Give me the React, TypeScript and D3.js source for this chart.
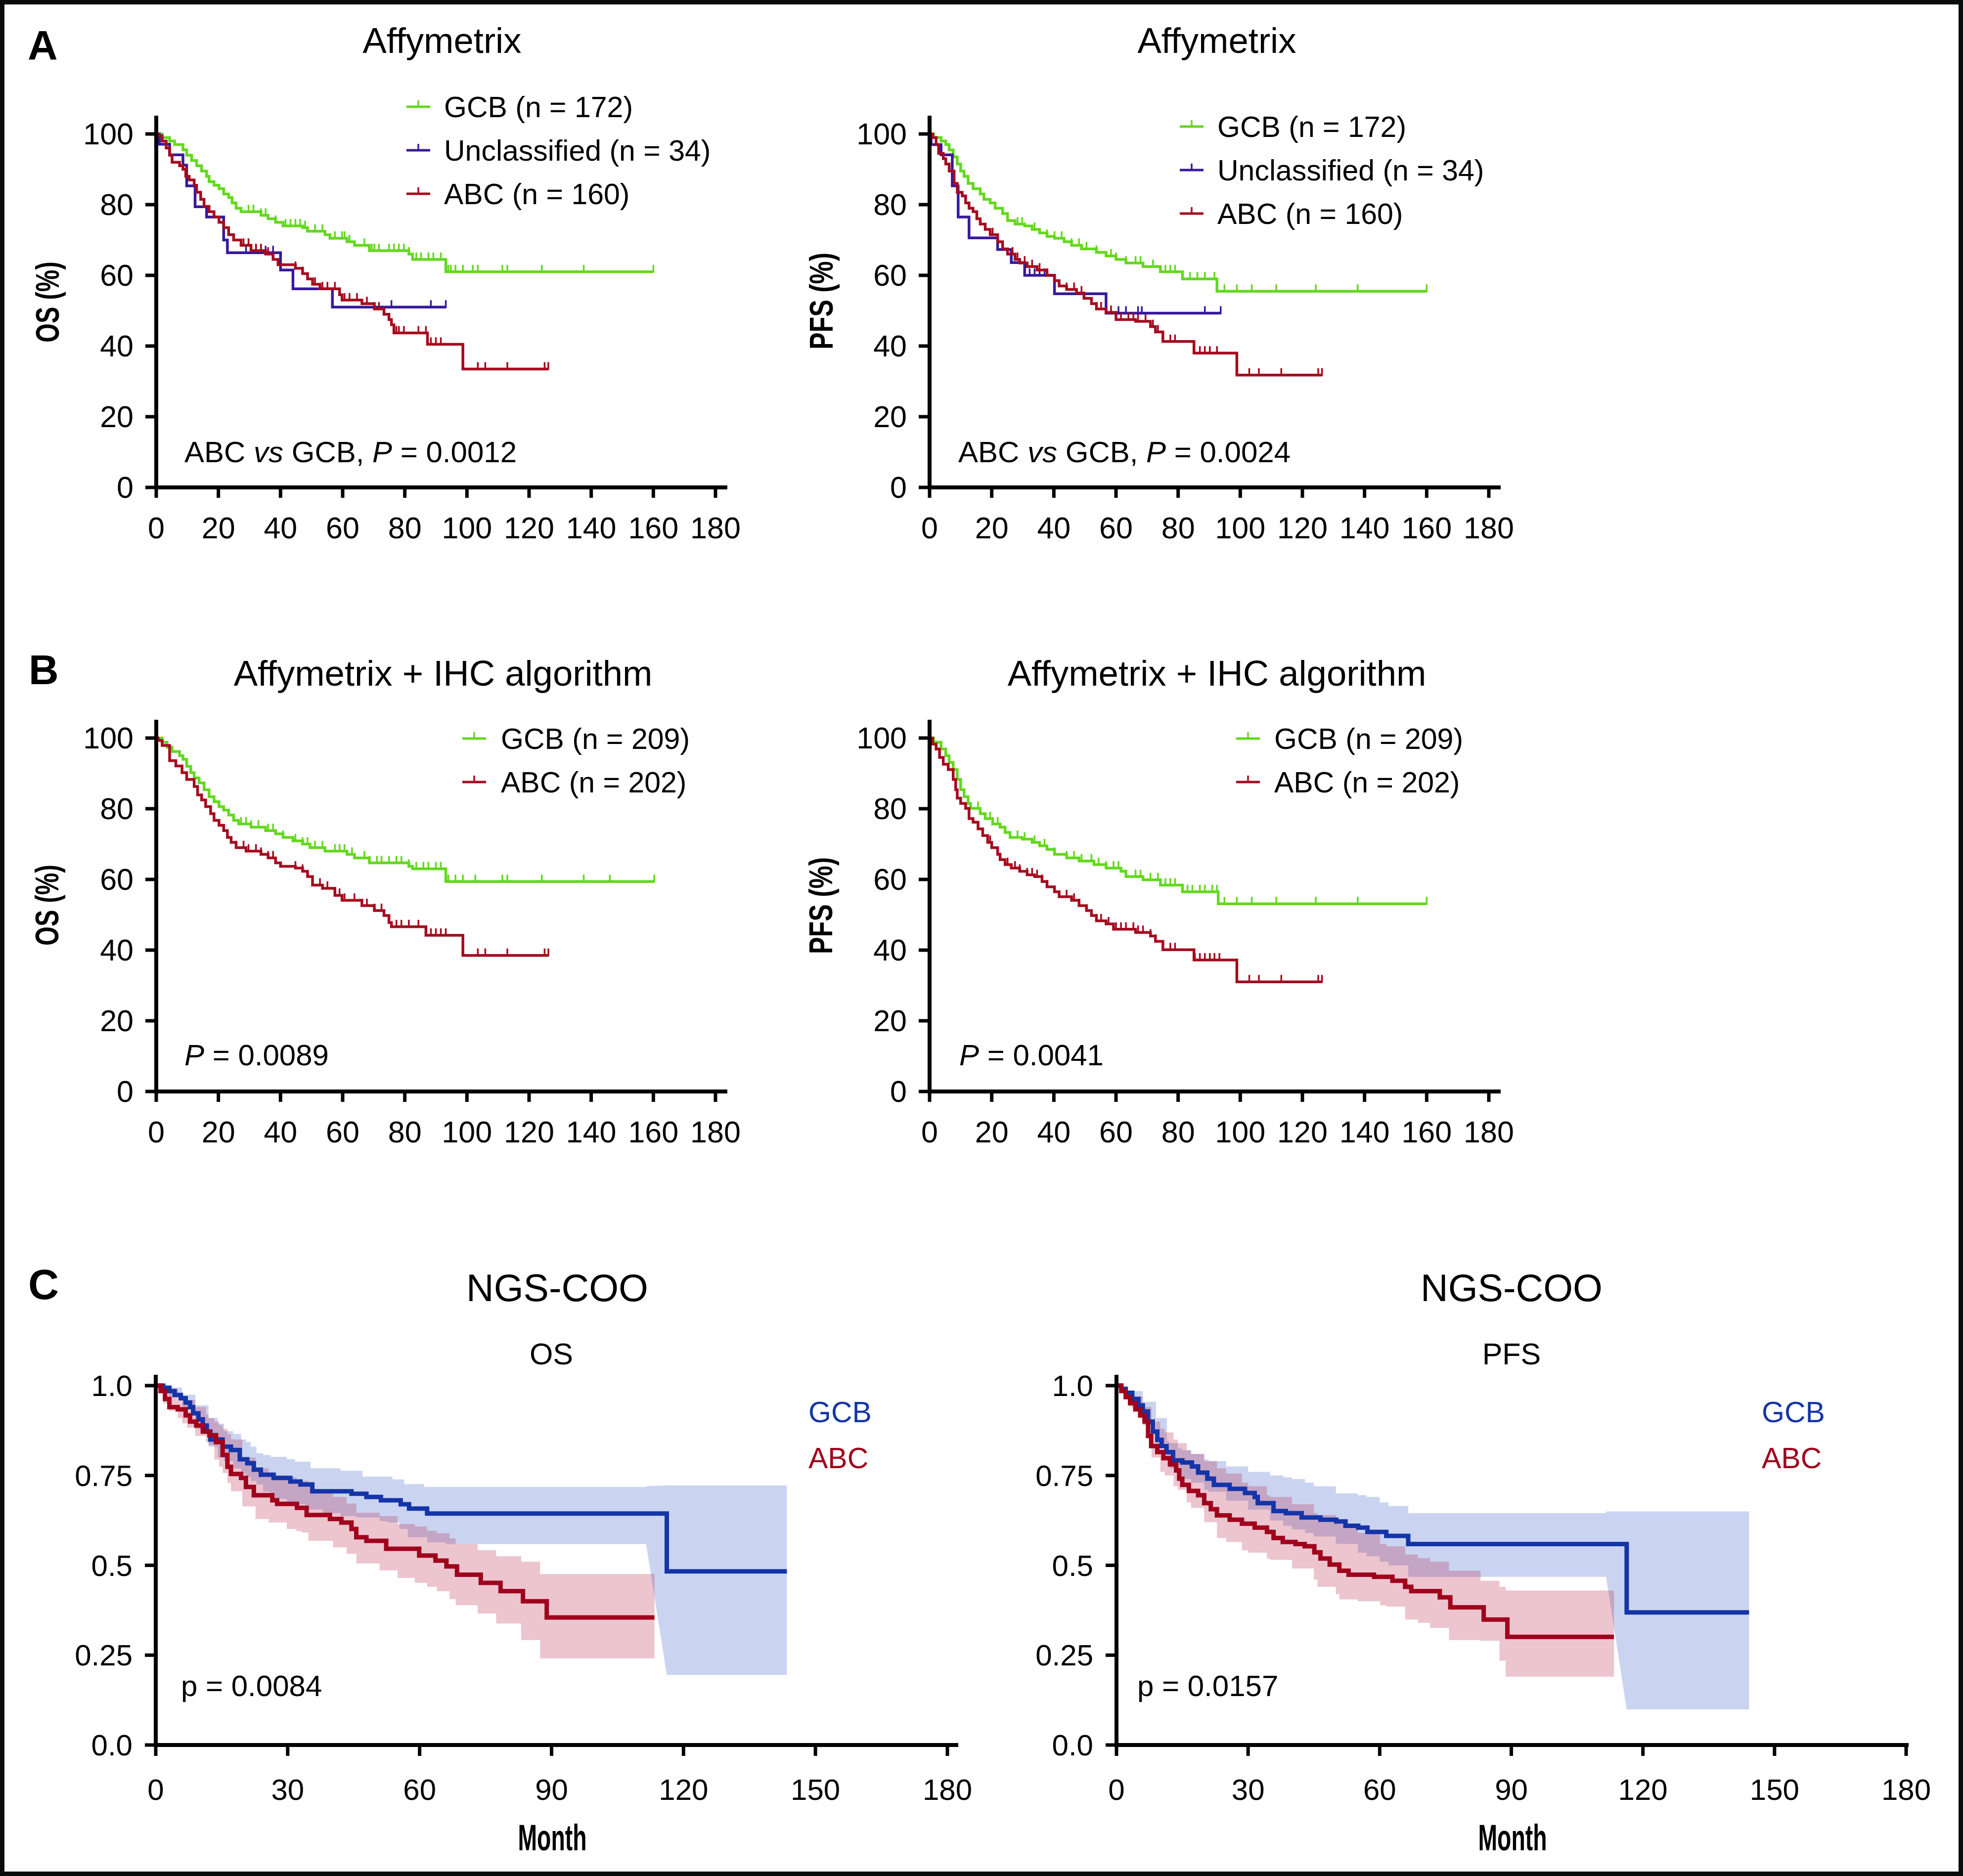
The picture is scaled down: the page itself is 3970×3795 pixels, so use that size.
import React from 'react';
import * as d3 from 'd3';

type Pt = [number, number];
type Bd = [number, number, number];

const FONT = "'Liberation Sans', Arial, Helvetica, sans-serif";
const GREEN = '#63d81e';
const PURPLE = '#37199b';
const RED = '#a50a1e';
const C_BLUE = '#1434a8';
const C_RED = '#a0001c';
const BAND_BLUE = '#2a55c8';
const BAND_RED = '#b3173f';

const AB_X_TICKS = [0, 20, 40, 60, 80, 100, 120, 140, 160, 180];
const AB_Y_TICKS = [0, 20, 40, 60, 80, 100];
const C_X_TICKS = [0, 30, 60, 90, 120, 150, 180];
const C_Y_TICKS = [0, 0.25, 0.5, 0.75, 1];
const C_Y_LABELS = ['0.0', '0.25', '0.5', '0.75', '1.0'];

// ---------- Panel A : Affymetrix, OS ----------
const A_OS_GCB: Pt[] = [[0,100],[1.9,99],[4.3,98],[5.9,97],[8.6,95.5],[9.8,94],[11.4,92.5],[13,91],[14.6,89.5],[16.2,88],[17,86.5],[18.6,85.5],[20.2,84.5],[21.7,83],[23.3,82],[24.4,80.5],[25.7,79],[27.3,78],[33.7,77],[36,76],[38.4,75],[40.8,74],[47.1,73.5],[48.7,72.5],[54.3,71.5],[55.9,70.5],[61.4,69.5],[63.8,68.5],[68.6,67],[81.3,66],[82.5,64.5],[93.2,61]];
const A_OS_GCB_END = 160;
const A_OS_GCB_CENS = [29.7,31.3,33.7,35.2,38.4,41.6,43.2,44.8,46.3,47.9,51.1,53.5,57.5,59.8,60.6,62.2,67,69.4,70.2,71.7,74.9,76.5,78.1,79.7,81.3,83.7,85.2,87.6,89.2,91.6,94,94.8,96.3,98.7,101.9,103.5,111.4,113,124.1,137.6,160];
const A_OS_UNC: Pt[] = [[0,100],[1,97.1],[4.3,94.1],[8.6,91.2],[9.8,85.3],[12.5,79.4],[16.2,76.5],[21.7,70],[22.9,66.4],[40,61.5],[44,56.2],[56.7,51]];
const A_OS_UNC_END = 93.2;
const A_OS_UNC_CENS = [28.9,32.1,33.7,35.2,37.6,75.7,88.4,93.2];
const A_OS_ABC: Pt[] = [[0,100],[0.6,99.5],[1.9,98],[3.2,96],[4.3,94],[5.1,92],[7.5,91],[8.6,90],[9.5,88],[10.6,87],[12.2,85.5],[13,83.5],[14.3,81.5],[15.4,79.5],[17,78],[18.6,76.5],[20.2,75],[21.7,73.5],[23.3,71.5],[24.9,70],[27.3,68.5],[30.5,67],[35.2,66],[37.6,64.5],[39.2,63],[44.8,62],[47.1,60.5],[48.7,59],[50.3,57.5],[52.7,56.2],[59,54.5],[59.8,53],[66.2,52],[70.2,50.5],[73.3,49],[74.9,47.5],[75.7,46],[76.5,43.7],[87.3,40.5],[98.7,33.5]];
const A_OS_ABC_END = 126.2;
const A_OS_ABC_CENS = [28.1,29.7,32.1,33.7,36,37.6,44.8,47.1,51.1,53.5,55.1,57.5,59,60.6,62.2,64.6,67.8,70.2,71.7,76.5,77.3,78.1,79.7,84.4,86.8,88.4,90,91.6,103.5,105.9,113,125,126.2];

// ---------- Panel A : Affymetrix, PFS ----------
const A_PFS_GCB: Pt[] = [[0,100],[1.3,99],[3.7,98],[5.2,97],[6.3,95.5],[7.6,93.5],[8.9,91.5],[10,89.5],[11.1,88],[12.4,86],[14,84.5],[16.3,83],[17.5,81.5],[19.5,80.5],[21.1,79],[23.5,77.5],[25.1,75.5],[27.5,74.5],[30.6,74],[33,73],[35.4,72],[37.8,71],[40.2,70.5],[43.3,69.5],[45.7,68.5],[48.9,67.5],[53.7,66.5],[56.8,65.5],[60,64.5],[63.2,63.5],[68.7,62.5],[74.3,61],[81.4,59],[92.5,55.5]];
const A_PFS_GCB_END = 160;
const A_PFS_GCB_CENS = [28.3,29.8,33.8,37.8,40.2,42.5,45.7,48.1,50.5,53.7,58.4,60,63.2,66.3,67.9,71.9,75.9,77.5,79,81.4,83.8,86.2,88.6,91.7,94.9,98.9,103.7,111.6,124.3,137.8,160];
const A_PFS_UNC: Pt[] = [[0,100],[0.5,97],[3.7,94.1],[7.3,85.3],[9.2,76.5],[12.7,70.6],[21.9,67.3],[26.3,63.6],[30.6,60],[40.2,54.8],[56.8,49.3]];
const A_PFS_UNC_END = 93.7;
const A_PFS_UNC_CENS = [21.9,32.2,33.8,35.4,37,60.8,63.2,67.1,68.3,88.6,93.7];
const A_PFS_ABC: Pt[] = [[0,100],[1,99],[2.1,97],[2.9,94.5],[4.4,93],[5.2,91.5],[6.3,89.5],[7.9,86],[8.9,83.5],[10.5,82.5],[11.6,80.5],[12.7,79],[14,78],[15.2,76],[16.3,74.5],[17.9,73],[19.5,71.5],[21.9,69.5],[23.5,67.5],[25.1,66],[27.5,64.5],[29,63.5],[31.4,62.5],[34.6,61.5],[37.8,60],[40.2,58.5],[41.7,57],[44.1,56],[47.3,55],[49.7,53.5],[52.1,52],[53.7,50.5],[56.8,49.5],[60,47.5],[66.3,47],[71.1,45.5],[72.7,44],[75.1,41.3],[85.1,38],[98.9,31.8]];
const A_PFS_ABC_END = 126.3;
const A_PFS_ABC_CENS = [20.3,23.5,26.7,28.3,30.6,33,35.4,37.8,44.1,46.5,48.9,53.7,55.2,58.4,61.6,64,65.6,67.1,69.5,71.9,73.5,77.5,79,87,88.6,90.2,92.5,102.9,106,113.2,125.1,126.3];

// ---------- Panel B : Affymetrix + IHC, OS ----------
const B_OS_GCB: Pt[] = [[0,100],[1.9,98.8],[3.5,97.4],[5.1,96.2],[7.5,95],[8.6,94],[9.8,92],[11.1,90.2],[12.2,88.7],[13.8,87.3],[15.4,85.4],[17,83.4],[18.6,82],[20.2,80.6],[21.7,79.6],[23.3,78.2],[24.9,76.7],[26.5,75.7],[30.5,74.8],[35.2,73.8],[38.4,72.9],[40.8,71.9],[44,70.9],[47.1,70],[49.5,69],[54.3,68],[61.4,67.1],[63.8,66.1],[68.6,64.7],[81.3,63.7],[82.5,63],[93.2,59.4]];
const B_OS_GCB_END = 160.3;
const B_OS_GCB_CENS = [27.3,28.9,30.5,32.9,36,37.6,40.8,44.8,47.1,48.7,51.1,53.5,57.5,59,60.6,63,67,68.6,71,72.5,74.9,77.3,78.9,81.3,83.7,86,87.6,90,91.6,94,96.3,98.7,102.7,111.4,113,124.1,137.6,146,160.3];
const B_OS_ABC: Pt[] = [[0,100],[0.6,99.3],[1.9,97.9],[4.3,93.6],[6.3,92.1],[8.3,90.2],[9.8,88.3],[12.2,86.3],[13.3,83.9],[14.6,82.5],[15.9,80.6],[17.5,78.6],[18.6,76.7],[20.2,75.3],[21.7,73.8],[22.9,71.9],[24.1,70.5],[25.7,69],[28.9,68],[33.7,67.1],[36,66.1],[38.4,64.7],[40,63.7],[44.8,63.2],[47.1,62.3],[48.7,60.8],[50.3,58.4],[53.5,57.5],[57.5,55.5],[59.8,54.1],[66.2,52.6],[70.2,51.2],[73.3,49.8],[74.9,47.8],[75.7,46.6],[86.8,44.2],[98.7,38.5]];
const B_OS_ABC_END = 126.2;
const B_OS_ABC_CENS = [25.7,28.1,29.7,32.1,33.7,36,37.6,44.8,47.1,52.7,55.1,57.5,59,60.6,63.8,66.2,67.8,70.2,72.5,74.9,77.3,78.9,81.3,84.4,86.8,88.4,90,91.6,93.2,103.5,105.9,113,125,126.2];

// ---------- Panel B : Affymetrix + IHC, PFS ----------
const B_PFS_GCB: Pt[] = [[0,100],[1.3,98.8],[3.7,96.9],[5.2,95],[6.3,93.1],[7.6,91.1],[8.9,88.3],[10,85.4],[11.1,83.4],[12.4,81.5],[13.2,80.1],[16.3,78.6],[17.9,77.2],[20.3,75.7],[22.7,74.8],[24.3,73.3],[25.9,71.9],[29.8,71.4],[33,70.5],[35.4,69.5],[37.8,68.5],[40.2,67.1],[44.1,66.1],[48.1,65.2],[52.9,64.2],[56.8,63.2],[61.6,62.3],[63.2,60.8],[68.7,59.9],[74.3,58.4],[81.4,56.5],[92.9,53.1]];
const B_PFS_GCB_END = 160;
const B_PFS_GCB_CENS = [15.6,19.5,21.9,28.3,30.6,33.8,37,40.2,44.1,46.5,48.9,52.1,54.4,56.8,59.2,60.8,63.2,66.3,67.9,71.1,73.5,75.9,77.5,79,81.4,83,84.6,87,88.6,91,92.5,94.9,98.9,103.7,111.6,124.3,137.8,160];
const B_PFS_ABC: Pt[] = [[0,100],[1,98.3],[2.1,96.9],[3.2,94.5],[4.4,92.6],[6,91.1],[7.6,88.3],[8.4,85.4],[8.9,83],[10,81.5],[11.6,80.1],[12.7,77.2],[14,76.2],[15.6,74.3],[17.1,72.4],[18.7,70.5],[20,69],[21.9,67.1],[22.7,65.6],[24.3,64.2],[26.3,63.2],[29,62.3],[31.4,61.3],[33.8,60.8],[36.2,59.4],[37.8,57.9],[40.2,56.5],[41.7,55.1],[45.7,54.1],[48.1,52.6],[50.5,51.2],[52.1,49.8],[53.7,48.3],[56.8,47.4],[59.2,45.9],[66.3,45],[71.1,44],[72.7,42.5],[75.1,40.1],[85.1,37.2],[98.9,31]];
const B_PFS_ABC_END = 126.3;
const B_PFS_ABC_CENS = [19.5,22.7,25.1,27.5,29,31.4,33,34.6,36.2,37.8,44.1,46.5,48.1,53.7,55.2,57.6,60,61.6,63.2,65.6,67.1,68.7,71.1,72.7,77.5,79,85.4,87,88.6,90.2,91.7,93.3,102.9,106,113.2,125.1,126.3];

// ---------- Panel C : NGS-COO, OS ----------
const C_OS_GCB: Pt[] = [[0,1],[1.7,0.994],[3.1,0.985],[4.3,0.974],[5.7,0.965],[6.8,0.953],[7.8,0.94],[8.5,0.923],[9.7,0.906],[10.7,0.889],[11.6,0.872],[12.4,0.85],[15.2,0.83],[17.1,0.821],[19.1,0.795],[20.8,0.784],[22.3,0.766],[23.9,0.752],[26.8,0.743],[30.6,0.733],[32.9,0.725],[35.6,0.706],[44.5,0.699],[47.9,0.69],[51.2,0.681],[55.7,0.67],[57.6,0.658],[61.7,0.644],[116.2,0.483]];
const C_OS_GCB_END = 143.5;
const C_OS_ABC: Pt[] = [[0,1],[1.1,0.985],[2.1,0.963],[3.1,0.94],[5,0.934],[6.8,0.917],[7.8,0.9],[9.2,0.889],[10.7,0.872],[12.2,0.862],[13.7,0.843],[15.2,0.807],[16.3,0.774],[17.1,0.754],[19.4,0.743],[20.5,0.718],[22.3,0.695],[26.5,0.681],[27.6,0.671],[32.1,0.66],[34.3,0.64],[39.6,0.629],[42.2,0.619],[44.5,0.601],[45.6,0.578],[47.9,0.568],[52.4,0.546],[59.9,0.527],[63.6,0.513],[66.1,0.497],[68.5,0.474],[73.9,0.451],[78.4,0.428],[83.5,0.4],[88.9,0.355]];
const C_OS_ABC_END = 113.4;
// [month, lower, upper]
const C_OS_GCB_CI: Bd[] = [[0,1,1],[3,0.97,0.995],[6,0.935,0.975],[9,0.88,0.945],[12,0.83,0.91],[14.1,0.8,0.894],[15.5,0.79,0.873],[17.6,0.77,0.866],[19.4,0.755,0.85],[20.5,0.745,0.843],[21.6,0.735,0.83],[22.9,0.725,0.812],[24.4,0.705,0.807],[26.1,0.695,0.802],[27,0.685,0.802],[29.8,0.675,0.795],[31.7,0.67,0.788],[34,0.655,0.788],[35.2,0.655,0.77],[38,0.645,0.77],[42,0.637,0.763],[45.6,0.633,0.763],[47,0.633,0.747],[50.9,0.623,0.747],[52.7,0.619,0.747],[53.8,0.619,0.739],[55.4,0.601,0.739],[56.5,0.601,0.726],[57.3,0.578,0.726],[61,0.578,0.718],[61.7,0.564,0.718],[65.9,0.559,0.718],[111.5,0.559,0.72],[116.2,0.195,0.722]];
const C_OS_GCB_RAMP = 111.5;
const C_OS_ABC_CI: Bd[] = [[0,1,1],[1.7,0.95,0.995],[3,0.93,0.99],[5,0.91,0.98],[6,0.895,0.97],[7.1,0.883,0.96],[9,0.86,0.94],[11.4,0.843,0.92],[12,0.835,0.91],[13.3,0.794,0.9],[14.4,0.774,0.89],[15.2,0.757,0.88],[16.3,0.729,0.865],[17.1,0.706,0.85],[19.7,0.664,0.8],[22.7,0.629,0.77],[25.7,0.619,0.755],[27,0.619,0.75],[29.8,0.601,0.745],[32,0.595,0.735],[33.2,0.591,0.735],[34.7,0.568,0.72],[36,0.568,0.71],[40.3,0.55,0.69],[43.4,0.532,0.672],[45.6,0.505,0.646],[50.9,0.486,0.637],[55,0.465,0.615],[58.9,0.451,0.608],[61.7,0.44,0.596],[63.9,0.428,0.589],[66.8,0.406,0.575],[68.2,0.389,0.559],[73.2,0.366,0.542],[77.4,0.338,0.525],[83.1,0.292,0.51],[87.4,0.241,0.476]];

// ---------- Panel C : NGS-COO, PFS ----------
const C_PFS_GCB: Pt[] = [[0,1],[1.1,0.991],[2.1,0.98],[3.6,0.963],[5,0.945],[6,0.928],[7.2,0.9],[8.3,0.872],[9.3,0.849],[10.3,0.832],[11.4,0.815],[12.9,0.792],[15,0.786],[17.2,0.775],[18.6,0.758],[20.7,0.741],[22.2,0.724],[25.8,0.713],[29.3,0.701],[31.5,0.69],[32.2,0.673],[35.8,0.651],[38.6,0.645],[42.2,0.633],[46.5,0.627],[50.1,0.622],[52.2,0.61],[55.1,0.605],[57.2,0.593],[61.5,0.582],[66.5,0.559],[116.3,0.369]];
const C_PFS_GCB_END = 144.2;
const C_PFS_ABC: Pt[] = [[0,1],[1.1,0.985],[2.1,0.968],[3.1,0.951],[4.3,0.934],[5.4,0.917],[6.4,0.9],[7.2,0.86],[7.9,0.832],[9.3,0.815],[10.7,0.798],[12.2,0.781],[13.6,0.764],[14.3,0.741],[15,0.724],[16.5,0.707],[18.6,0.695],[20,0.673],[21.5,0.656],[22.9,0.639],[25.8,0.627],[28.6,0.616],[31.5,0.605],[34.3,0.593],[35.8,0.576],[37.9,0.565],[40.8,0.559],[42.9,0.553],[45.1,0.536],[46.5,0.519],[48.6,0.502],[50.8,0.485],[52.9,0.474],[58.7,0.468],[62.9,0.457],[65.8,0.44],[67.2,0.428],[73.7,0.411],[76.1,0.383],[83.7,0.349],[89.1,0.301]];
const C_PFS_ABC_END = 113.4;
const C_PFS_GCB_CI: Bd[] = [[0,1,1],[3,0.95,0.985],[6,0.905,0.955],[9,0.84,0.91],[11.5,0.8,0.845],[12,0.77,0.84],[14,0.75,0.825],[15,0.74,0.82],[17,0.73,0.81],[20,0.71,0.795],[21,0.705,0.79],[25,0.68,0.775],[30,0.655,0.76],[35,0.625,0.75],[38,0.61,0.745],[40,0.6,0.74],[43,0.59,0.73],[45,0.58,0.72],[50,0.56,0.7],[55,0.535,0.695],[57,0.525,0.69],[60,0.51,0.675],[62,0.5,0.665],[66.5,0.468,0.645],[111.6,0.468,0.65],[116.3,0.099,0.65]];
const C_PFS_GCB_RAMP = 111.6;
const C_PFS_ABC_CI: Bd[] = [[0,1,1],[3,0.94,0.97],[6,0.89,0.94],[8,0.8,0.9],[10,0.76,0.88],[11,0.75,0.87],[13,0.72,0.85],[14,0.71,0.84],[16,0.675,0.82],[17,0.66,0.81],[20,0.62,0.79],[22.9,0.576,0.77],[25,0.565,0.755],[28.6,0.542,0.73],[30,0.535,0.72],[34.3,0.519,0.695],[35,0.515,0.69],[40,0.491,0.67],[45,0.46,0.645],[45.8,0.44,0.64],[50,0.42,0.62],[50.8,0.405,0.615],[55,0.4,0.59],[60.1,0.389,0.56],[61.5,0.385,0.553],[65.8,0.349,0.53],[68.7,0.34,0.52],[71.5,0.326,0.51],[75.8,0.292,0.485],[83,0.29,0.457],[87.3,0.235,0.44],[88.7,0.19,0.43]];

function stepAt(data: Pt[], t: number): number {
  let v = data[0][1];
  for (const d of data) {
    if (d[0] <= t) v = d[1];
    else break;
  }
  return v;
}

// Expand step data into explicit vertices; the transition into the point
// right after `ramp` (if given) is drawn as a straight slope.
function expandBand(d: Bd[], end: number, ramp?: number): Bd[] {
  const out: Bd[] = [d[0]];
  for (let i = 1; i < d.length; i++) {
    const prev = d[i - 1];
    if (ramp !== undefined && prev[0] === ramp) {
      out.push(d[i]);
    } else {
      out.push([d[i][0], prev[1], prev[2]]);
      out.push(d[i]);
    }
  }
  const last = d[d.length - 1];
  out.push([end, last[1], last[2]]);
  return out;
}

interface Curve { data: Pt[]; end: number; censor: number[]; color: string; label: string; }

interface KMProps {
  x0: number; y0: number; y100: number; span: number;
  curves: Curve[];
  title: string; titleX: number; titleY: number;
  ylabel: string; ylabelX: number; ylabelY: number; ylabelLen: number;
  legX: number; legTextX: number; legY: number;
  p: React.ReactNode; pX: number; pY: number;
}

function KMPanel(props: KMProps) {
  const { x0, y0, y100, span, curves } = props;
  const x = d3.scaleLinear().domain([0, 180]).range([x0, x0 + span]);
  const y = d3.scaleLinear().domain([0, 100]).range([y0, y100]);
  const line = d3.line<Pt>().x(d => x(d[0])).y(d => y(d[1])).curve(d3.curveStepAfter);
  const fs = 61;
  return (
    <g>
      <text x={props.titleX} y={props.titleY} fontSize={72.5} textAnchor="middle">{props.title}</text>
      {curves.map((c, i) => {
        const full: Pt[] = [...c.data, [c.end, c.data[c.data.length - 1][1]]];
        const ticks = c.censor.map(t => `M${x(t)},${y(stepAt(c.data, t)) + 2}v-16`).join('');
        return (
          <g key={i}>
            <path d={line(full) || ''} fill="none" stroke={c.color} strokeWidth={5.5} />
            <path d={ticks} fill="none" stroke={c.color} strokeWidth={3.5} />
          </g>
        );
      })}
      <path d={`M${x0},${y0 + 4}V${y100 - 37}`} stroke="#000" strokeWidth={8} fill="none" />
      <path d={`M${x0 - 4},${y0}H${x(180) + 24}`} stroke="#000" strokeWidth={8} fill="none" />
      {AB_Y_TICKS.map(t => (
        <g key={'y' + t}>
          <line x1={x0 - 22} x2={x0} y1={y(t)} y2={y(t)} stroke="#000" strokeWidth={7} />
          <text x={x0 - 46} y={y(t) + 21} fontSize={fs} textAnchor="end">{t}</text>
        </g>
      ))}
      {AB_X_TICKS.map(t => (
        <g key={'x' + t}>
          <line x1={x(t)} x2={x(t)} y1={y0} y2={y0 + 21} stroke="#000" strokeWidth={7} />
          <text x={x(t)} y={y0 + 103} fontSize={fs} textAnchor="middle">{t}</text>
        </g>
      ))}
      <text transform={`translate(${props.ylabelX},${props.ylabelY}) rotate(-90)`} textAnchor="middle" dy="0.36em"
        fontSize={66} fontWeight="bold" textLength={props.ylabelLen} lengthAdjust="spacingAndGlyphs">{props.ylabel}</text>
      {curves.map((c, i) => {
        const ly = props.legY + i * 88;
        return (
          <g key={'l' + i}>
            <line x1={props.legX} x2={props.legX + 48} y1={ly} y2={ly} stroke={c.color} strokeWidth={5} />
            <line x1={props.legX + 24} x2={props.legX + 24} y1={ly} y2={ly - 13} stroke={c.color} strokeWidth={3.5} />
            <text x={props.legTextX} y={ly + 21} fontSize={59}>{c.label}</text>
          </g>
        );
      })}
      <text x={props.pX} y={props.pY} fontSize={60}>{props.p}</text>
    </g>
  );
}

interface CProps {
  x0: number; x180: number; axisEnd: number;
  gcb: Pt[]; gcbEnd: number; abc: Pt[]; abcEnd: number; gcbCI: Bd[]; abcCI: Bd[]; ramp: number;
  title: string; titleX: number; sub: string; subX: number;
  legX: number; p: string; pX: number; monthX: number;
}

function CPanel(props: CProps) {
  const { x0, x180 } = props;
  const y0 = 3530, y1 = 2803;
  const x = d3.scaleLinear().domain([0, 180]).range([x0, x180]);
  const y = d3.scaleLinear().domain([0, 1]).range([y0, y1]);
  const line = d3.line<Pt>().x(d => x(d[0])).y(d => y(d[1])).curve(d3.curveStepAfter);
  const area = d3.area<Bd>().x(d => x(d[0])).y0(d => y(d[1])).y1(d => y(d[2])).curve(d3.curveLinear);
  const ext = (d: Pt[], e: number): Pt[] => [...d, [e, d[d.length - 1][1]]];
  const fs = 60;
  return (
    <g>
      <text x={props.titleX} y={2632} fontSize={77} textAnchor="middle">{props.title}</text>
      <text x={props.subX} y={2760} fontSize={61} textAnchor="middle">{props.sub}</text>
      <path d={area(expandBand(props.gcbCI, props.gcbEnd, props.ramp)) || ''} fill={BAND_BLUE} fillOpacity={0.25} />
      <path d={area(expandBand(props.abcCI, props.abcEnd)) || ''} fill={BAND_RED} fillOpacity={0.25} />
      <path d={line(ext(props.gcb, props.gcbEnd)) || ''} fill="none" stroke={C_BLUE} strokeWidth={9} />
      <path d={line(ext(props.abc, props.abcEnd)) || ''} fill="none" stroke={C_RED} strokeWidth={9} />
      <path d={`M${x0},${y0 + 4}V${2781}`} stroke="#000" strokeWidth={8} fill="none" />
      <path d={`M${x0 - 4},${y0}H${props.axisEnd}`} stroke="#000" strokeWidth={8} fill="none" />
      {C_Y_TICKS.map((t, i) => (
        <g key={'y' + t}>
          <line x1={x0 - 22} x2={x0} y1={y(t)} y2={y(t)} stroke="#000" strokeWidth={7} />
          <text x={x0 - 47} y={y(t) + 21} fontSize={fs} textAnchor="end">{C_Y_LABELS[i]}</text>
        </g>
      ))}
      {C_X_TICKS.map(t => (
        <g key={'x' + t}>
          <line x1={x(t)} x2={x(t)} y1={y0} y2={y0 + 22} stroke="#000" strokeWidth={7} />
          <text x={x(t)} y={3641} fontSize={fs} textAnchor="middle">{t}</text>
        </g>
      ))}
      <text x={props.monthX} y={3743} fontSize={74} fontWeight="bold" textAnchor="middle"
        textLength={139} lengthAdjust="spacingAndGlyphs">Month</text>
      <text x={props.legX} y={2877} fontSize={59} fill={C_BLUE}>GCB</text>
      <text x={props.legX} y={2970} fontSize={59} fill={C_RED}>ABC</text>
      <text x={props.pX} y={3431} fontSize={60}>{props.p}</text>
    </g>
  );
}

export default function App() {
  const W = 3970, H = 3795;
  const pA = (v: string) => (<>ABC <tspan fontStyle="italic">vs</tspan> GCB, <tspan fontStyle="italic">P</tspan> = {v}</>);
  const pB = (v: string) => (<><tspan fontStyle="italic">P</tspan> = {v}</>);
  return (
    <svg width={W} height={H} viewBox={`0 0 ${W} ${H}`} style={{ position: 'absolute', left: 0, top: 0 }}
      fontFamily={FONT} fill="#000">
      <rect x={0} y={0} width={W} height={H} fill="#fff" />
      <rect x={4.5} y={4.5} width={W - 9} height={H - 9} fill="none" stroke="#0a0b0b" strokeWidth={9} />

      <text x={56} y={121} fontSize={84} fontWeight="bold">A</text>
      <text x={58} y={1384} fontSize={84} fontWeight="bold">B</text>
      <text x={57} y={2628} fontSize={86} fontWeight="bold">C</text>

      <KMPanel x0={316} y0={986} y100={271} span={1131}
        curves={[
          { data: A_OS_GCB, end: A_OS_GCB_END, censor: A_OS_GCB_CENS, color: GREEN, label: 'GCB (n = 172)' },
          { data: A_OS_UNC, end: A_OS_UNC_END, censor: A_OS_UNC_CENS, color: PURPLE, label: 'Unclassified (n = 34)' },
          { data: A_OS_ABC, end: A_OS_ABC_END, censor: A_OS_ABC_CENS, color: RED, label: 'ABC (n = 160)' },
        ]}
        title="Affymetrix" titleX={894} titleY={107}
        ylabel="OS (%)" ylabelX={95} ylabelY={611} ylabelLen={164}
        legX={822} legTextX={898} legY={216}
        p={pA('0.0012')} pX={373} pY={935} />

      <KMPanel x0={1880} y0={986} y100={271} span={1131}
        curves={[
          { data: A_PFS_GCB, end: A_PFS_GCB_END, censor: A_PFS_GCB_CENS, color: GREEN, label: 'GCB (n = 172)' },
          { data: A_PFS_UNC, end: A_PFS_UNC_END, censor: A_PFS_UNC_CENS, color: PURPLE, label: 'Unclassified (n = 34)' },
          { data: A_PFS_ABC, end: A_PFS_ABC_END, censor: A_PFS_ABC_CENS, color: RED, label: 'ABC (n = 160)' },
        ]}
        title="Affymetrix" titleX={2461} titleY={107}
        ylabel="PFS (%)" ylabelX={1660} ylabelY={609} ylabelLen={196}
        legX={2386} legTextX={2462} legY={256}
        p={pA('0.0024')} pX={1938} pY={935} />

      <KMPanel x0={316} y0={2208} y100={1493} span={1131}
        curves={[
          { data: B_OS_GCB, end: B_OS_GCB_END, censor: B_OS_GCB_CENS, color: GREEN, label: 'GCB (n = 209)' },
          { data: B_OS_ABC, end: B_OS_ABC_END, censor: B_OS_ABC_CENS, color: RED, label: 'ABC (n = 202)' },
        ]}
        title="Affymetrix + IHC algorithm" titleX={896} titleY={1387}
        ylabel="OS (%)" ylabelX={94} ylabelY={1831} ylabelLen={164}
        legX={935} legTextX={1013} legY={1494}
        p={pB('0.0089')} pX={373} pY={2155} />

      <KMPanel x0={1880} y0={2208} y100={1493} span={1131}
        curves={[
          { data: B_PFS_GCB, end: B_PFS_GCB_END, censor: B_PFS_GCB_CENS, color: GREEN, label: 'GCB (n = 209)' },
          { data: B_PFS_ABC, end: B_PFS_ABC_END, censor: B_PFS_ABC_CENS, color: RED, label: 'ABC (n = 202)' },
        ]}
        title="Affymetrix + IHC algorithm" titleX={2461} titleY={1387}
        ylabel="PFS (%)" ylabelX={1659} ylabelY={1832} ylabelLen={196}
        legX={2500} legTextX={2577} legY={1494}
        p={pB('0.0041')} pX={1940} pY={2155} />

      <CPanel x0={315} x180={1916} axisEnd={1938}
        gcb={C_OS_GCB} gcbEnd={C_OS_GCB_END} abc={C_OS_ABC} abcEnd={C_OS_ABC_END}
        gcbCI={C_OS_GCB_CI} abcCI={C_OS_ABC_CI} ramp={C_OS_GCB_RAMP}
        title="NGS-COO" titleX={1127} sub="OS" subX={1115}
        legX={1635} p="p = 0.0084" pX={366} monthX={1117} />

      <CPanel x0={2258} x180={3855} axisEnd={3860}
        gcb={C_PFS_GCB} gcbEnd={C_PFS_GCB_END} abc={C_PFS_ABC} abcEnd={C_PFS_ABC_END}
        gcbCI={C_PFS_GCB_CI} abcCI={C_PFS_ABC_CI} ramp={C_PFS_GCB_RAMP}
        title="NGS-COO" titleX={3057} sub="PFS" subX={3057}
        legX={3563} p="p = 0.0157" pX={2300} monthX={3059} />
    </svg>
  );
}
